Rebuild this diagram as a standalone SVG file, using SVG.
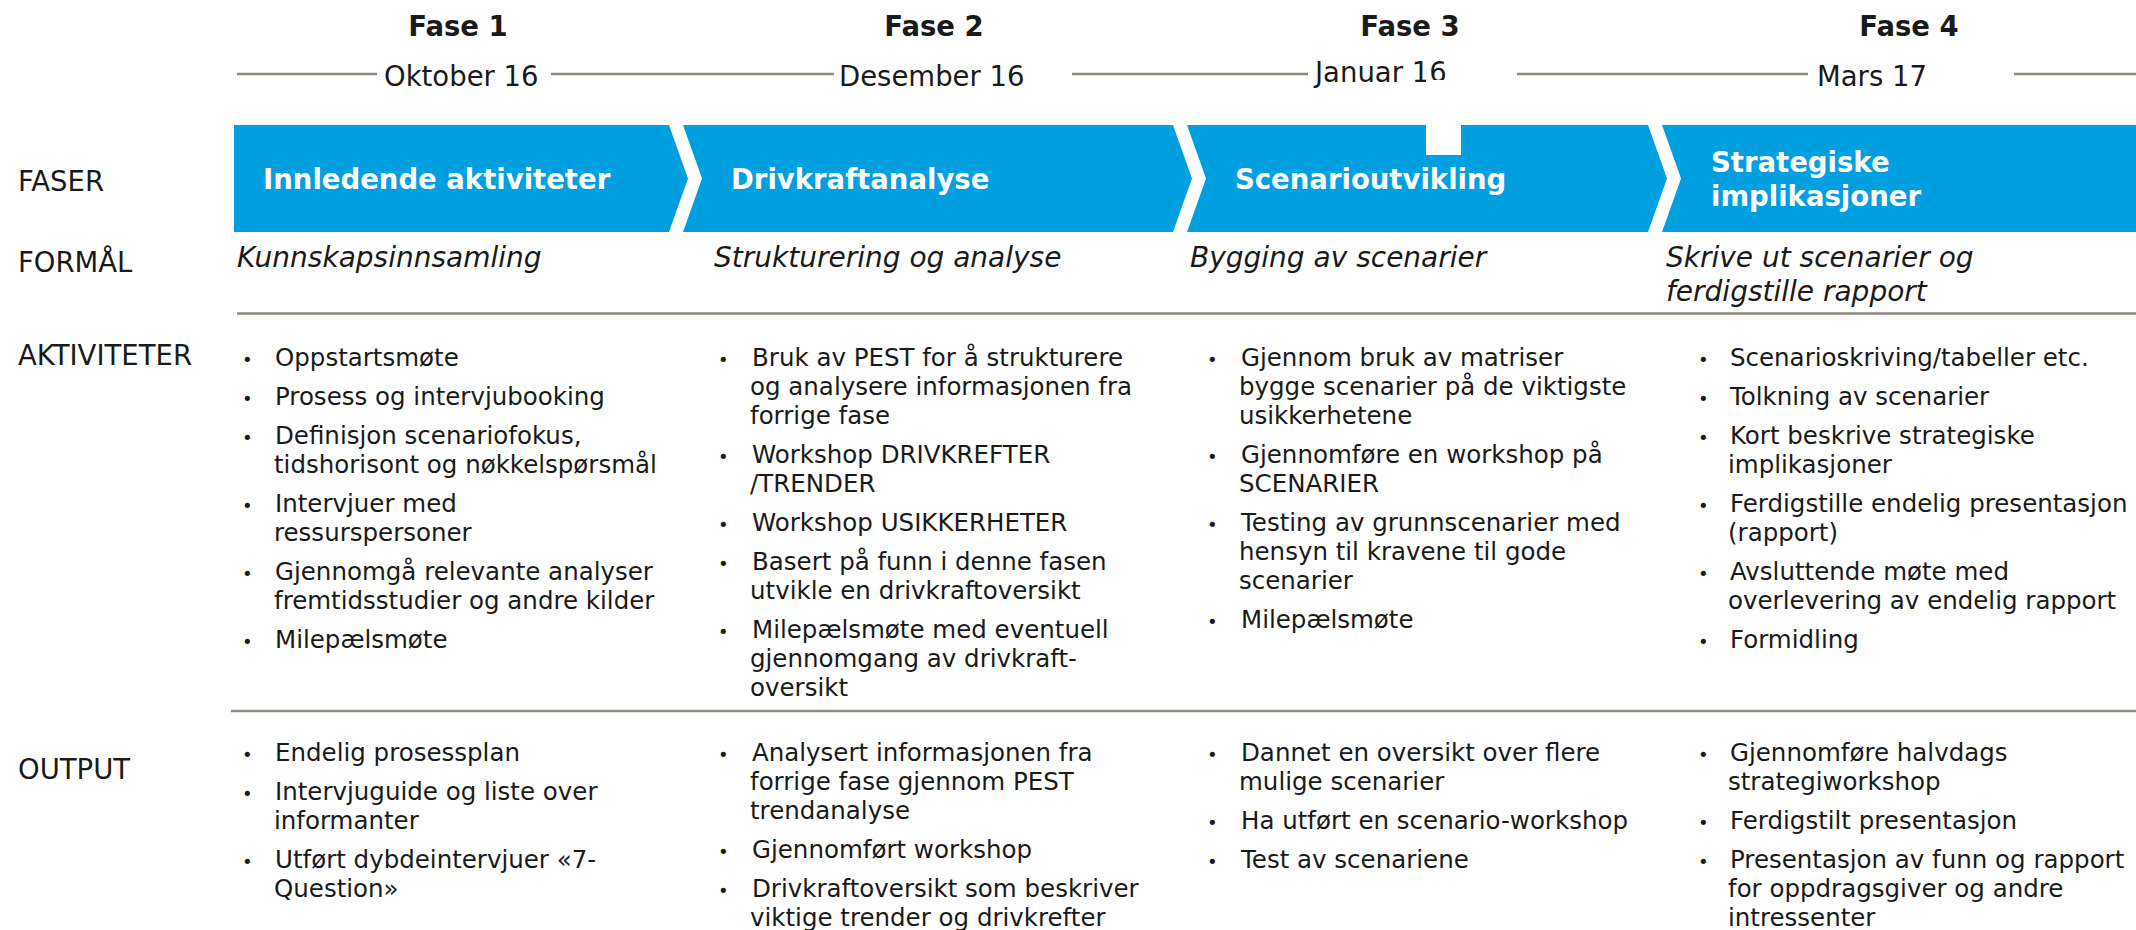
<svg xmlns="http://www.w3.org/2000/svg" width="2136" height="930" viewBox="0 0 2136 930">
<style>
text{font-family:"DejaVu Sans","Verdana",sans-serif;fill:#1a1a1a}
.fase{font-weight:bold;font-size:27.5px;text-anchor:middle}
.date{font-size:27.5px}
.lbl{font-size:27.5px}
.chev{fill:#009fe0}
.ct{font-weight:bold;font-size:27.5px;fill:#ffffff}
.it{font-style:italic;font-size:28px}
.b{font-size:24.5px}
.dot{font-size:18px}
.conn{stroke:#8b8b7d;stroke-width:2.5;fill:none}
</style>
<rect width="2136" height="930" fill="#ffffff"/>
<g id="connectors">
<line class="conn" x1="237" y1="74" x2="377" y2="74"/>
<line class="conn" x1="551" y1="74" x2="834" y2="74"/>
<line class="conn" x1="1072" y1="74" x2="1308" y2="74"/>
<line class="conn" x1="1517" y1="74" x2="1808" y2="74"/>
<line class="conn" x1="2014" y1="74" x2="2136" y2="74"/>
<line class="conn" x1="237" y1="313.5" x2="2136" y2="313.5"/>
<line class="conn" x1="231" y1="711" x2="2136" y2="711"/>
</g>
<g id="header-fase1"><text class="fase" x="458" y="36">Fase 1</text><text class="date" x="384" y="86">Oktober 16</text></g>
<g id="header-fase2"><text class="fase" x="934" y="36">Fase 2</text><text class="date" x="839" y="86">Desember 16</text></g>
<g id="header-fase3"><text class="fase" x="1410" y="36">Fase 3</text><text class="date" x="1315" y="82">Januar 16</text></g>
<g id="header-fase4"><text class="fase" x="1909" y="36">Fase 4</text><text class="date" x="1817" y="86">Mars 17</text></g>
<g id="row-labels">
<text class="lbl" x="18" y="191">FASER</text>
<text class="lbl" x="18" y="272">FORMÅL</text>
<text class="lbl" x="18" y="365">AKTIVITETER</text>
<text class="lbl" x="18" y="779">OUTPUT</text>
</g>
<g id="chevron1"><polygon class="chev" points="234,125 669,125 688,178.5 669,232 234,232"/><text class="ct" x="263" y="189">Innledende aktiviteter</text></g>
<g id="chevron2"><polygon class="chev" points="683,125 1173,125 1192,178.5 1173,232 683,232 702,178.5"/><text class="ct" x="731" y="189">Drivkraftanalyse</text></g>
<g id="chevron3"><polygon class="chev" points="1187,125 1648,125 1667,178.5 1648,232 1187,232 1206,178.5"/><text class="ct" x="1235" y="189">Scenarioutvikling</text></g>
<g id="chevron4"><polygon class="chev" points="1662,125 2136,125 2136,232 1662,232 1681,178.5"/><text class="ct" x="1711" y="172">Strategiske</text><text class="ct" x="1711" y="206">implikasjoner</text></g>
<rect id="cover" x="1426" y="80" width="35" height="75" fill="#ffffff"/>
<g id="formaal-1"><text class="it" x="237" y="267">Kunnskapsinnsamling</text></g>
<g id="formaal-2"><text class="it" x="714" y="267">Strukturering og analyse</text></g>
<g id="formaal-3"><text class="it" x="1190" y="267">Bygging av scenarier</text></g>
<g id="formaal-4"><text class="it" x="1666" y="267">Skrive ut scenarier og</text><text class="it" x="1666" y="301">ferdigstille rapport</text></g>
<g id="aktiviteter-1">
<text class="dot" x="242" y="366">•</text><text class="b" x="275" y="366">Oppstartsmøte</text>
<text class="dot" x="242" y="405">•</text><text class="b" x="275" y="405">Prosess og intervjubooking</text>
<text class="dot" x="242" y="444">•</text><text class="b" x="275" y="444">Definisjon scenariofokus,</text><text class="b" x="274" y="473">tidshorisont og nøkkelspørsmål</text>
<text class="dot" x="242" y="512">•</text><text class="b" x="275" y="512">Intervjuer med</text><text class="b" x="274" y="541">ressurspersoner</text>
<text class="dot" x="242" y="580">•</text><text class="b" x="275" y="580">Gjennomgå relevante analyser</text><text class="b" x="274" y="609">fremtidsstudier og andre kilder</text>
<text class="dot" x="242" y="648">•</text><text class="b" x="275" y="648">Milepælsmøte</text>
</g>
<g id="aktiviteter-2">
<text class="dot" x="718" y="366">•</text><text class="b" x="752" y="366">Bruk av PEST for å strukturere</text><text class="b" x="750" y="395">og analysere informasjonen fra</text><text class="b" x="750" y="424">forrige fase</text>
<text class="dot" x="718" y="463">•</text><text class="b" x="752" y="463">Workshop DRIVKREFTER</text><text class="b" x="750" y="492">/TRENDER</text>
<text class="dot" x="718" y="531">•</text><text class="b" x="752" y="531">Workshop USIKKERHETER</text>
<text class="dot" x="718" y="570">•</text><text class="b" x="752" y="570">Basert på funn i denne fasen</text><text class="b" x="750" y="599">utvikle en drivkraftoversikt</text>
<text class="dot" x="718" y="638">•</text><text class="b" x="752" y="638">Milepælsmøte med eventuell</text><text class="b" x="750" y="667">gjennomgang av drivkraft-</text><text class="b" x="750" y="696">oversikt</text>
</g>
<g id="aktiviteter-3">
<text class="dot" x="1207" y="366">•</text><text class="b" x="1241" y="366">Gjennom bruk av matriser</text><text class="b" x="1239" y="395">bygge scenarier på de viktigste</text><text class="b" x="1239" y="424">usikkerhetene</text>
<text class="dot" x="1207" y="463">•</text><text class="b" x="1241" y="463">Gjennomføre en workshop på</text><text class="b" x="1239" y="492">SCENARIER</text>
<text class="dot" x="1207" y="531">•</text><text class="b" x="1241" y="531">Testing av grunnscenarier med</text><text class="b" x="1239" y="560">hensyn til kravene til gode</text><text class="b" x="1239" y="589">scenarier</text>
<text class="dot" x="1207" y="628">•</text><text class="b" x="1241" y="628">Milepælsmøte</text>
</g>
<g id="aktiviteter-4">
<text class="dot" x="1698" y="366">•</text><text class="b" x="1730" y="366">Scenarioskriving/tabeller etc.</text>
<text class="dot" x="1698" y="405">•</text><text class="b" x="1730" y="405">Tolkning av scenarier</text>
<text class="dot" x="1698" y="444">•</text><text class="b" x="1730" y="444">Kort beskrive strategiske</text><text class="b" x="1728" y="473">implikasjoner</text>
<text class="dot" x="1698" y="512">•</text><text class="b" x="1730" y="512">Ferdigstille endelig presentasjon</text><text class="b" x="1728" y="541">(rapport)</text>
<text class="dot" x="1698" y="580">•</text><text class="b" x="1730" y="580">Avsluttende møte med</text><text class="b" x="1728" y="609">overlevering av endelig rapport</text>
<text class="dot" x="1698" y="648">•</text><text class="b" x="1730" y="648">Formidling</text>
</g>
<g id="output-1">
<text class="dot" x="242" y="761">•</text><text class="b" x="275" y="761">Endelig prosessplan</text>
<text class="dot" x="242" y="800">•</text><text class="b" x="275" y="800">Intervjuguide og liste over</text><text class="b" x="274" y="829">informanter</text>
<text class="dot" x="242" y="868">•</text><text class="b" x="275" y="868">Utført dybdeintervjuer «7-</text><text class="b" x="274" y="897">Question»</text>
</g>
<g id="output-2">
<text class="dot" x="718" y="761">•</text><text class="b" x="752" y="761">Analysert informasjonen fra</text><text class="b" x="750" y="790">forrige fase gjennom PEST</text><text class="b" x="750" y="819">trendanalyse</text>
<text class="dot" x="718" y="858">•</text><text class="b" x="752" y="858">Gjennomført workshop</text>
<text class="dot" x="718" y="897">•</text><text class="b" x="752" y="897">Drivkraftoversikt som beskriver</text><text class="b" x="750" y="926">viktige trender og drivkrefter</text>
</g>
<g id="output-3">
<text class="dot" x="1207" y="761">•</text><text class="b" x="1241" y="761">Dannet en oversikt over flere</text><text class="b" x="1239" y="790">mulige scenarier</text>
<text class="dot" x="1207" y="829">•</text><text class="b" x="1241" y="829">Ha utført en scenario-workshop</text>
<text class="dot" x="1207" y="868">•</text><text class="b" x="1241" y="868">Test av scenariene</text>
</g>
<g id="output-4">
<text class="dot" x="1698" y="761">•</text><text class="b" x="1730" y="761">Gjennomføre halvdags</text><text class="b" x="1728" y="790">strategiworkshop</text>
<text class="dot" x="1698" y="829">•</text><text class="b" x="1730" y="829">Ferdigstilt presentasjon</text>
<text class="dot" x="1698" y="868">•</text><text class="b" x="1730" y="868">Presentasjon av funn og rapport</text><text class="b" x="1728" y="897">for oppdragsgiver og andre</text><text class="b" x="1728" y="926">intressenter</text>
</g>
</svg>
